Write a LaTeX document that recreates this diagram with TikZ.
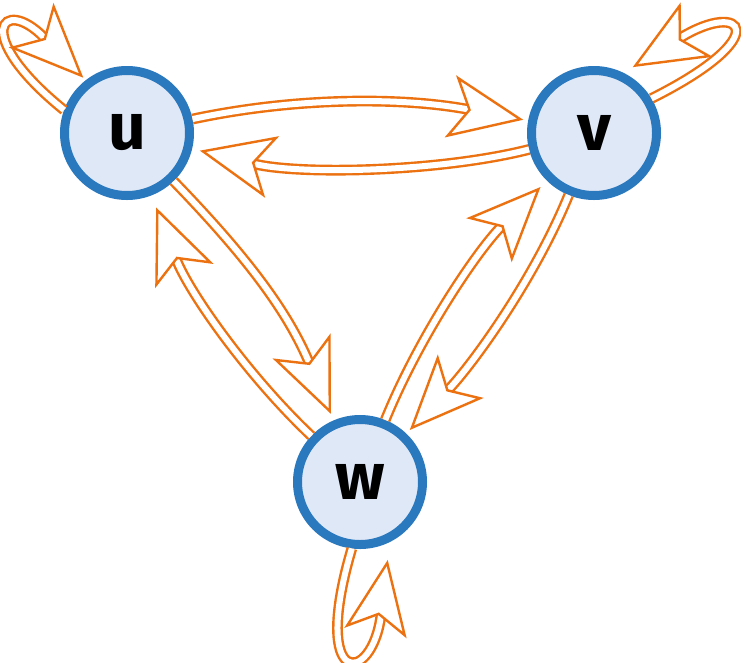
\documentclass[tikz,border=0pt]{standalone}
\usepackage{fontspec}
\setmainfont{Fira Sans}
\usetikzlibrary{arrows.meta,decorations.markings}
\definecolor{ored}{HTML}{EC7211}
\definecolor{nblue}{HTML}{2A78BE}
\definecolor{nfill}{HTML}{DFE8F7}
\begin{document}
\begin{tikzpicture}[x=1pt,y=-1pt,
  vtx/.style={circle, draw=nblue, fill=nfill, line width=9pt, minimum size=125pt, inner sep=0pt,
    font=\fontsize{66}{66}\selectfont\bfseries},
  dshaft/.style={draw=ored, line width=2.4pt, double=white, double distance=6pt, shorten >=#1},
  headat/.style={decoration={markings, mark=at position -#1 with
    {\arrow[ored, line width=2.4pt]{Stealth[fill=white, length=74pt, width=63pt, inset=18pt]}}}, decorate}
]
\useasboundingbox (0,0) rectangle (741,662);
\fill[white] (0,0) rectangle (741,662);

\node[vtx] (u) at (127,133) {u};
\node[vtx] (v) at (594,133) {v};
\node[vtx] (w) at (360,482) {w};

% u -> v
\draw[dshaft=61pt] (u) .. controls (296,97) and (402,97) .. (v);
\path[headat=5pt] (u) .. controls (296,97) and (402,97) .. (v);
% v -> u
\draw[dshaft=64pt] (v) .. controls (440,172) and (300,175) .. (u);
\path[headat=8pt] (v) .. controls (440,172) and (300,175) .. (u);
% u -> w
\draw[dshaft=63pt] (u) .. controls (250,260) and (288,313) .. (w);
\path[headat=7pt] (u) .. controls (250,260) and (288,313) .. (w);
% w -> u
\draw[dshaft=69pt] (w) .. controls (247,375) and (189,292) .. (u);
\path[headat=13pt] (w) .. controls (247,375) and (189,292) .. (u);
% v -> w
\draw[dshaft=61pt] (v) .. controls (534,280) and (472,365) .. (w);
\path[headat=5pt] (v) .. controls (534,280) and (472,365) .. (w);
% w -> v
\draw[dshaft=65pt] (w) .. controls (419,337) and (477,251) .. (v);
\path[headat=9pt] (w) .. controls (419,337) and (477,251) .. (v);

% loops
\draw[dshaft=59.5pt] (u.160) .. controls (-30,34) and (2.5,-5) .. (u.128);
\path[headat=3.5pt] (u.160) .. controls (-30,34) and (2.5,-5) .. (u.128);

\draw[dshaft=67pt] (v.31) .. controls (776.6,35.9) and (742.7,-0.4) .. (v.64);
\path[headat=11pt] (v.31) .. controls (776.6,35.9) and (742.7,-0.4) .. (v.64);

\draw[dshaft=74.5pt] (w.263) .. controls (310,690) and (372,685) .. (w.297);
\path[headat=18.5pt] (w.263) .. controls (310,690) and (372,685) .. (w.297);
\end{tikzpicture}
\end{document}
